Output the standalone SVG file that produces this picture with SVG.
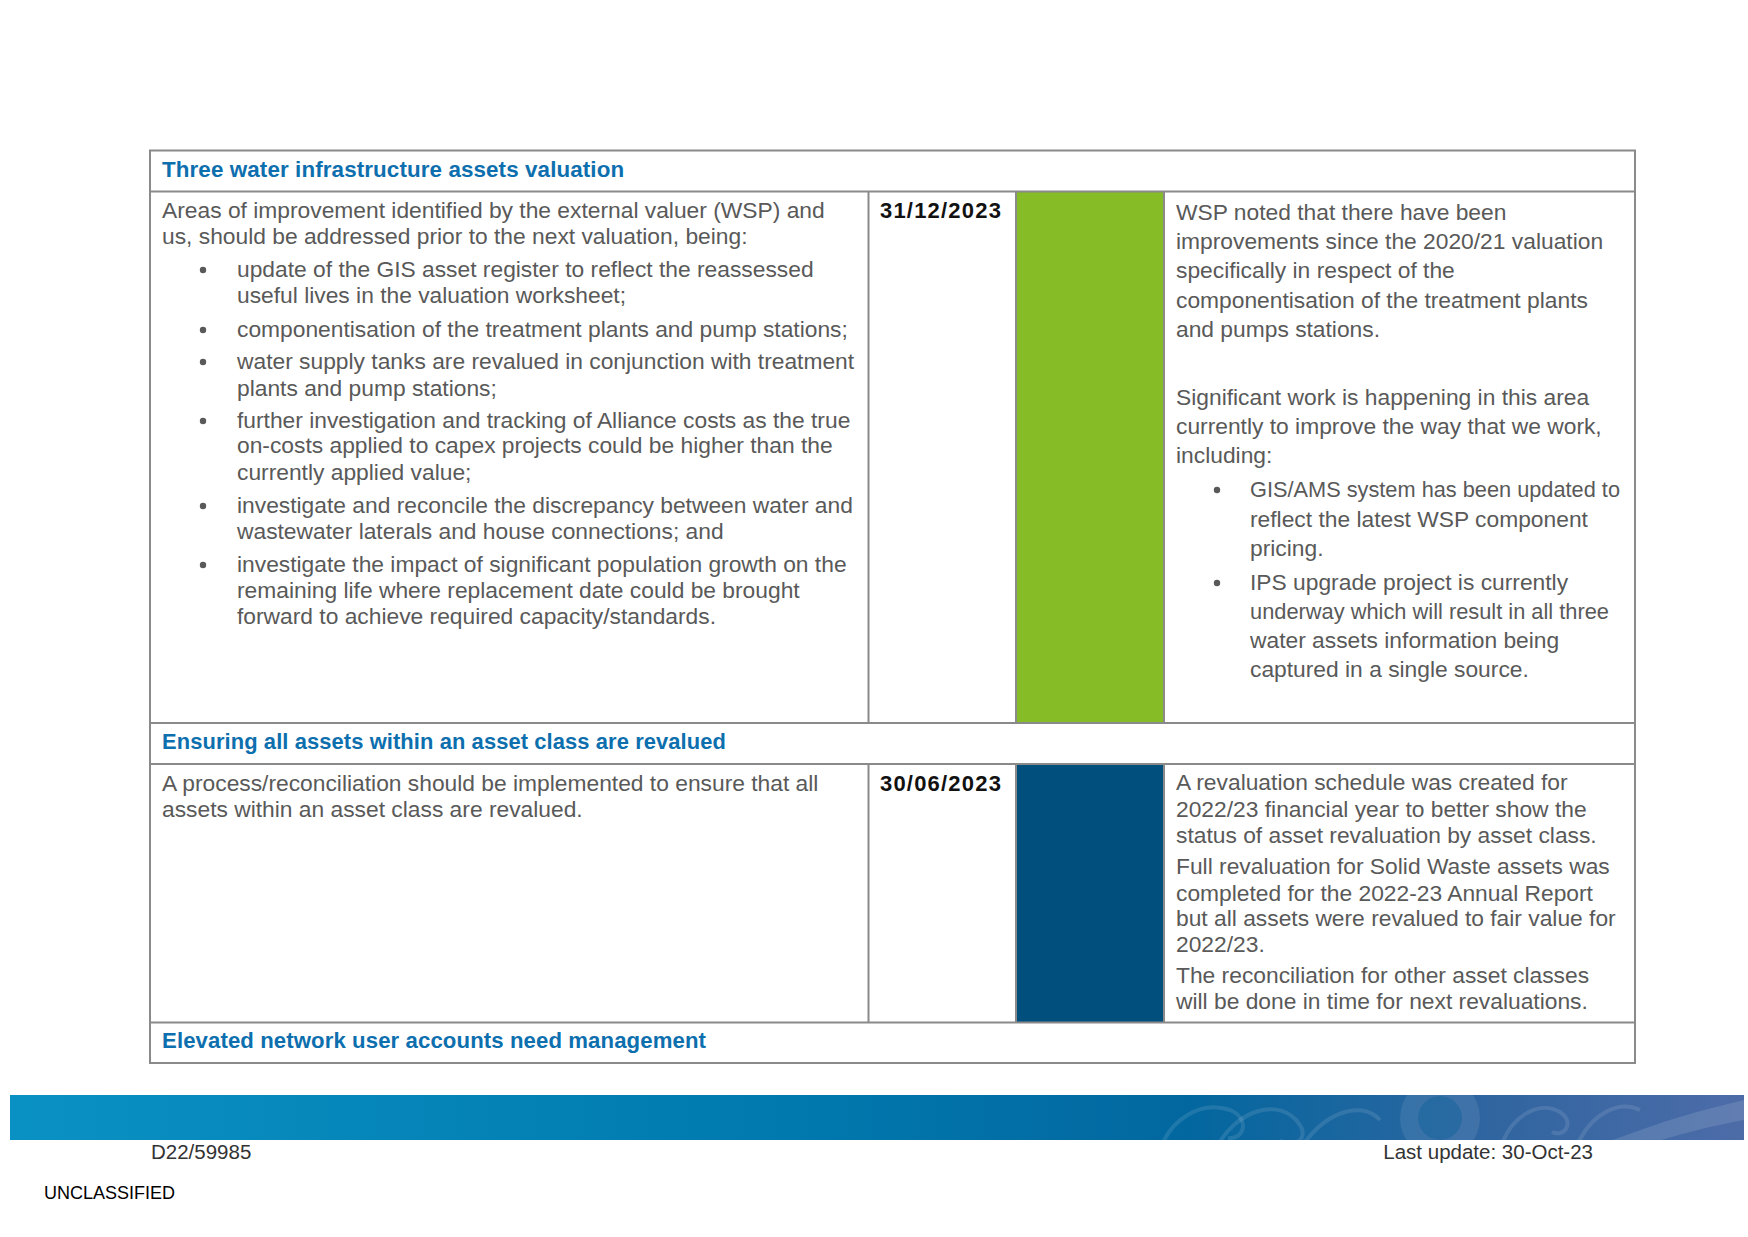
<svg xmlns="http://www.w3.org/2000/svg" width="1748" height="1237" viewBox="0 0 1748 1237">
<defs>
<style>
.hd{font-family:"Liberation Sans",Arial,sans-serif;font-weight:bold;font-size:22.4px;fill:#0D6FAE;letter-spacing:0.1px}
.bd{font-family:"Liberation Sans",Arial,sans-serif;font-size:22.8px;fill:#595959}
.dt{font-family:"Liberation Sans",Arial,sans-serif;font-weight:bold;font-size:22px;fill:#111111;letter-spacing:1.2px}
.ft{font-family:"Liberation Sans",Arial,sans-serif;font-size:20.5px;fill:#333333}
.un{font-family:"Liberation Sans",Arial,sans-serif;font-size:18px;fill:#000000}
.ln{stroke:#8a8a8a;stroke-width:2;fill:none}
.bl{fill:#595959}
.orn{fill:none;stroke:#ffffff;stroke-opacity:0.11;stroke-width:4}
</style>
<linearGradient id="bar" x1="0" y1="0" x2="1" y2="0">
<stop offset="0" stop-color="#0a91c3"/>
<stop offset="0.45" stop-color="#0079ae"/>
<stop offset="0.68" stop-color="#03679f"/>
<stop offset="0.85" stop-color="#2f65a0"/>
<stop offset="1" stop-color="#4d6ca8"/>
</linearGradient>
<clipPath id="barclip"><rect x="10" y="1095" width="1734" height="45"/></clipPath>
</defs>
<rect width="1748" height="1237" fill="#ffffff"/>

<g id="status-blocks">
<rect x="1016" y="191.5" width="148" height="531.5" fill="#86BC25"/>
<rect x="1016" y="764" width="148" height="258.5" fill="#004F7C"/>
</g>

<g id="grid">
<rect class="ln" x="150" y="150.5" width="1485" height="912.5"/>
<line class="ln" x1="150" y1="191.5" x2="1635" y2="191.5"/>
<line class="ln" x1="150" y1="723" x2="1635" y2="723"/>
<line class="ln" x1="150" y1="764" x2="1635" y2="764"/>
<line class="ln" x1="150" y1="1022.5" x2="1635" y2="1022.5"/>
<line class="ln" x1="868.5" y1="191.5" x2="868.5" y2="723"/>
<line class="ln" x1="1016" y1="191.5" x2="1016" y2="723"/>
<line class="ln" x1="1164" y1="191.5" x2="1164" y2="723"/>
<line class="ln" x1="868.5" y1="764" x2="868.5" y2="1022.5"/>
<line class="ln" x1="1016" y1="764" x2="1016" y2="1022.5"/>
<line class="ln" x1="1164" y1="764" x2="1164" y2="1022.5"/>
</g>

<g id="section-three-water">
<text class="hd" x="162" y="177">Three water infrastructure assets valuation</text>
<text class="bd" x="162" y="218">Areas of improvement identified by the external valuer (WSP) and</text>
<text class="bd" x="162" y="244">us, should be addressed prior to the next valuation, being:</text>
<circle class="bl" cx="203" cy="270" r="3.2"/>
<text class="bd" x="237" y="277">update of the GIS asset register to reflect the reassessed</text>
<text class="bd" x="237" y="303">useful lives in the valuation worksheet;</text>
<circle class="bl" cx="203" cy="330" r="3.2"/>
<text class="bd" x="237" y="337">componentisation of the treatment plants and pump stations;</text>
<circle class="bl" cx="203" cy="362" r="3.2"/>
<text class="bd" x="237" y="369">water supply tanks are revalued in conjunction with treatment</text>
<text class="bd" x="237" y="396">plants and pump stations;</text>
<circle class="bl" cx="203" cy="421" r="3.2"/>
<text class="bd" x="237" y="428">further investigation and tracking of Alliance costs as the true</text>
<text class="bd" x="237" y="453">on-costs applied to capex projects could be higher than the</text>
<text class="bd" x="237" y="480">currently applied value;</text>
<circle class="bl" cx="203" cy="506" r="3.2"/>
<text class="bd" x="237" y="513">investigate and reconcile the discrepancy between water and</text>
<text class="bd" x="237" y="539">wastewater laterals and house connections; and</text>
<circle class="bl" cx="203" cy="565" r="3.2"/>
<text class="bd" x="237" y="572">investigate the impact of significant population growth on the</text>
<text class="bd" x="237" y="598">remaining life where replacement date could be brought</text>
<text class="bd" x="237" y="624">forward to achieve required capacity/standards.</text>
<text class="dt" x="880" y="218">31/12/2023</text>
<text class="bd" x="1176" y="220">WSP noted that there have been</text>
<text class="bd" x="1176" y="249">improvements since the 2020/21 valuation</text>
<text class="bd" x="1176" y="278">specifically in respect of the</text>
<text class="bd" x="1176" y="308">componentisation of the treatment plants</text>
<text class="bd" x="1176" y="337">and pumps stations.</text>
<text class="bd" x="1176" y="405">Significant work is happening in this area</text>
<text class="bd" x="1176" y="434">currently to improve the way that we work,</text>
<text class="bd" x="1176" y="463">including:</text>
<circle class="bl" cx="1217" cy="490" r="3.2"/>
<text class="bd" x="1250" y="497" textLength="370" lengthAdjust="spacingAndGlyphs">GIS/AMS system has been updated to</text>
<text class="bd" x="1250" y="527">reflect the latest WSP component</text>
<text class="bd" x="1250" y="556">pricing.</text>
<circle class="bl" cx="1217" cy="583" r="3.2"/>
<text class="bd" x="1250" y="590">IPS upgrade project is currently</text>
<text class="bd" x="1250" y="619" textLength="359" lengthAdjust="spacingAndGlyphs">underway which will result in all three</text>
<text class="bd" x="1250" y="648">water assets information being</text>
<text class="bd" x="1250" y="677">captured in a single source.</text>
</g>

<g id="section-revalued">
<text class="hd" x="162" y="749" textLength="564" lengthAdjust="spacingAndGlyphs">Ensuring all assets within an asset class are revalued</text>
<text class="bd" x="162" y="791">A process/reconciliation should be implemented to ensure that all</text>
<text class="bd" x="162" y="817">assets within an asset class are revalued.</text>
<text class="dt" x="880" y="791">30/06/2023</text>
<text class="bd" x="1176" y="790">A revaluation schedule was created for</text>
<text class="bd" x="1176" y="817">2022/23 financial year to better show the</text>
<text class="bd" x="1176" y="843">status of asset revaluation by asset class.</text>
<text class="bd" x="1176" y="874">Full revaluation for Solid Waste assets was</text>
<text class="bd" x="1176" y="901">completed for the 2022-23 Annual Report</text>
<text class="bd" x="1176" y="926">but all assets were revalued to fair value for</text>
<text class="bd" x="1176" y="952">2022/23.</text>
<text class="bd" x="1176" y="983">The reconciliation for other asset classes</text>
<text class="bd" x="1176" y="1009">will be done in time for next revaluations.</text>
</g>

<g id="section-elevated">
<text class="hd" x="162" y="1048" textLength="544" lengthAdjust="spacingAndGlyphs">Elevated network user accounts need management</text>
</g>

<g id="footer">
<rect x="10" y="1095" width="1734" height="45" fill="url(#bar)"/>
<g clip-path="url(#barclip)">
<path class="orn" d="M1160 1150 C1170 1120 1200 1100 1230 1110 C1250 1118 1245 1140 1228 1138"/>
<path class="orn" d="M1215 1150 C1235 1110 1280 1095 1300 1125 C1310 1140 1290 1150 1280 1140"/>
<path class="orn" d="M1300 1150 C1320 1115 1360 1098 1380 1120"/>
<circle cx="1440" cy="1118" r="40" fill="#ffffff" fill-opacity="0.09"/>
<circle cx="1440" cy="1118" r="22" fill="#0a5f98" fill-opacity="0.4"/>
<path class="orn" d="M1500 1150 C1510 1115 1540 1100 1560 1112 C1575 1122 1565 1138 1552 1132"/>
<path class="orn" d="M1575 1150 C1590 1112 1620 1100 1640 1110"/>
<path d="M1600 1145 C1650 1125 1700 1110 1744 1100 L1744 1120 C1700 1128 1660 1140 1630 1150 Z" fill="#ffffff" fill-opacity="0.12"/>
</g>
<text class="ft" x="151" y="1159">D22/59985</text>
<text class="ft" x="1593" y="1159" text-anchor="end">Last update: 30-Oct-23</text>
<text class="un" x="44" y="1199">UNCLASSIFIED</text>
</g>
</svg>
